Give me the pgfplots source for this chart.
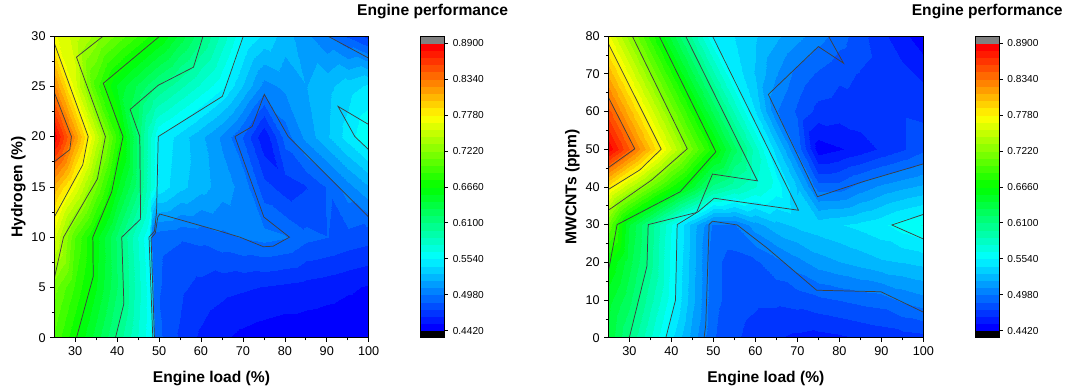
\documentclass[border=0pt]{standalone}
\usepackage{pgfplots}
\pgfplotsset{compat=1.18}
\usepackage{fontspec}
\setmainfont{Liberation Sans}
\pgfplotsset{
 colormap={engine}{
  rgb255=(0,0,0)
  rgb255=(0,0,255) rgb255=(0,26,255) rgb255=(0,52,255) rgb255=(0,78,255) rgb255=(0,105,255)
  rgb255=(0,131,255) rgb255=(0,157,255) rgb255=(0,183,255) rgb255=(0,209,255) rgb255=(0,235,255)
  rgb255=(0,255,248) rgb255=(0,255,222) rgb255=(0,255,196) rgb255=(0,255,170) rgb255=(0,255,144)
  rgb255=(0,255,118) rgb255=(0,255,92) rgb255=(0,255,65) rgb255=(0,255,39) rgb255=(0,255,13)
  rgb255=(13,255,0) rgb255=(39,255,0) rgb255=(65,255,0) rgb255=(92,255,0) rgb255=(118,255,0)
  rgb255=(144,255,0) rgb255=(170,255,0) rgb255=(196,255,0) rgb255=(222,255,0) rgb255=(248,255,0)
  rgb255=(255,235,0) rgb255=(255,209,0) rgb255=(255,183,0) rgb255=(255,157,0) rgb255=(255,131,0)
  rgb255=(255,105,0) rgb255=(255,78,0) rgb255=(255,52,0) rgb255=(255,26,0) rgb255=(255,0,0)
  rgb255=(128,128,128)
 },
 contourline/.style={draw=black!75, line width=0.55pt, no markers},
 myaxis/.style={
  scale only axis, width=235.8pt, height=226.3pt, view={0}{90}, anchor=south west,
  xmin=25, xmax=100, xtick={30,40,...,100}, minor x tick num=1,
  ztick=\empty, zmin=0, zmax=1,
  tick align=outside, xtick pos=left, ytick pos=left,
  major tick length=3pt, minor tick length=1.8pt,
  axis line style={line width=0.6pt},
  every tick/.style={black, line width=0.5pt},
  /pgf/number format/assume math mode=true,
  tick label style={font=\fontsize{9.5}{11}\selectfont},
  every axis x label/.style={at={(axis description cs:0.5,0)}, anchor=center, yshift=-30.5pt, font=\bfseries\fontsize{11.7}{13}\selectfont},
  every axis y label/.style={at={(axis description cs:0,0.5)}, anchor=center, rotate=90, yshift=27pt, font=\bfseries\fontsize{11.7}{13}\selectfont},
  xlabel={Engine load (\%)},
  colormap name=engine, colormap access=piecewise constant,
  point meta min=0.4308, point meta max=0.9012,
  colorbar,
  colorbar style={
   width=18.2pt, at={(parent axis.north east)}, anchor=north west, xshift=30.3pt,
   colormap access=piecewise constant,
   ytick={0.442,0.498,0.554,0.610,0.666,0.722,0.778,0.834,0.890},
   tick align=outside, ytick pos=right, major tick length=2.5pt,
   axis line style={line width=0.6pt},
   /pgf/number format/assume math mode=true,
   yticklabel style={font=\fontsize{7.6}{9}\selectfont, /pgf/number format/.cd, fixed, fixed zerofill, precision=4},
   title={Engine performance},
   title style={font=\bfseries\fontsize{11.7}{13}\selectfont, at={(0.5,1)}, anchor=center, yshift=12.2pt},
  },
 },
}
\begin{document}
\begin{tikzpicture}
\path[use as bounding box] (-40.7pt,-37pt) rectangle (759.5pt,253.3pt);
% ---------------- left: Hydrogen ----------------
\begin{axis}[myaxis, at={(0pt,0pt)}, ymin=0, ymax=30, ytick={0,5,...,30}, minor y tick num=1,
  ylabel={Hydrogen (\%)}]
\addplot3[surf, shader=interp, mesh/cols=17] coordinates {
(25,0,0.698) (30,0,0.668) (35,0,0.638) (40,0,0.607) (45,0,0.576) (48.3,0,0.555) (49.0,0,0.492) (55,0,0.474) (60,0,0.462) (65,0,0.455) (70,0,0.450) (75,0,0.447) (80,0,0.445) (85,0,0.445) (90,0,0.444) (95,0,0.443) (100,0,0.443)
(25,5,0.716) (30,5,0.687) (35,5,0.656) (40,5,0.622) (45,5,0.581) (48.0,5,0.556) (48.8,5,0.490) (55,5,0.478) (60,5,0.472) (65,5,0.468) (70,5,0.466) (75,5,0.464) (80,5,0.462) (85,5,0.460) (90,5,0.458) (95,5,0.455) (100,5,0.452)
(25,10,0.760) (30,10,0.700) (35,10,0.660) (40,10,0.619) (45,10,0.576) (47.5,10,0.555) (48.4,10,0.492) (55,10,0.488) (60,10,0.490) (65,10,0.495) (70,10,0.499) (75,10,0.502) (80,10,0.499) (85,10,0.490) (90,10,0.487) (95,10,0.483) (100,10,0.480)
(25,15,0.809) (30,15,0.766) (35,15,0.712) (40,15,0.657) (45,15,0.614) (48,15,0.575) (50,15,0.550) (55,15,0.535) (60,15,0.525) (65,15,0.515) (70,15,0.505) (75,15,0.480) (80,15,0.470) (85,15,0.475) (90,15,0.488) (95,15,0.505) (100,15,0.520)
(25,20,0.888) (30,20,0.821) (35,20,0.752) (40,20,0.685) (45,20,0.616) (48,20,0.576) (50,20,0.553) (55,20,0.538) (60,20,0.523) (65,20,0.507) (70,20,0.486) (75,20,0.455) (80,20,0.492) (85,20,0.513) (90,20,0.530) (95,20,0.548) (100,20,0.566)
(25,25,0.827) (30,25,0.760) (35,25,0.693) (40,25,0.653) (45,25,0.630) (48,25,0.616) (50,25,0.608) (55,25,0.591) (60,25,0.574) (65,25,0.557) (70,25,0.531) (75,25,0.505) (80,25,0.512) (85,25,0.520) (90,25,0.528) (95,25,0.538) (100,25,0.545)
(25,30,0.770) (30,30,0.750) (35,30,0.729) (40,30,0.708) (45,30,0.688) (48,30,0.675) (50,30,0.667) (55,30,0.640) (60,30,0.613) (65,30,0.584) (70,30,0.555) (75,30,0.540) (80,30,0.526) (85,30,0.512) (90,30,0.499) (95,30,0.485) (100,30,0.471)
};
\addplot3[contourline] coordinates {(25,24.4,1) (29.1,20,1) (28.7,18.7,1) (25,17.5,1)};
\addplot3[contourline] coordinates {(25,29.3,1) (33.1,20,1) (31.8,17.2,1) (25,12.0,1)};
\addplot3[contourline] coordinates {(36.7,30,1) (30.3,27.9,1) (37.2,20,1) (35.3,15.8,1) (27.2,10,1) (25,5.9,1)};
\addplot3[contourline] coordinates {(50.2,30,1) (36.7,25.3,1) (41.4,20,1) (38.7,14.5,1) (34.2,10,1) (34.3,6.1,1) (30.3,0,1)};
\addplot3[contourline] coordinates {(60.5,30,1) (58.2,26.9,1) (49.8,25.1,1) (43.1,22.7,1) (45.4,20,1) (45.6,11.8,1) (41.1,10,1) (41.6,3.4,1) (39.6,0,1)};
\addplot3[contourline] coordinates {(70.1,30,1) (65.1,24,1) (49.8,20,1) (49.4,12.5,1) (48.9,10.6,1) (47.6,10.0,1) (48.5,0,1)};
\addplot3[contourline] coordinates {(48.9,0,1) (48.1,9.9,1) (49.1,10.4,1) (49.7,12.0,1) (50.2,12.3,1) (63.7,10.7,1) (69.3,10,1) (74.9,9.05,1) (77.2,9.1,1) (81.1,10,1) (75,12,1) (68.1,20,1) (72.2,21,1) (75.1,24.2,1) (80.8,20,1) (100,12,1)};
\addplot3[contourline] coordinates {(90.2,30,1) (100,27.8,1)};
\addplot3[contourline] coordinates {(100,21.2,1) (92.7,23,1) (96.7,20,1) (100,18.7,1)};
\end{axis}
% ---------------- right: MWCNTs ----------------
\begin{axis}[myaxis, at={(415.5pt,0pt)}, width=236.25pt, ymin=0, ymax=80, ytick={0,10,...,80}, minor y tick num=1,
  ylabel={MWCNTs (ppm)}]
\addplot3[surf, shader=interp, mesh/cols=16] coordinates {
(25,0,0.642) (30,0,0.610) (35,0,0.578) (40,0,0.546) (45,0,0.516) (50,0,0.488) (55,0,0.478) (60,0,0.470) (65,0,0.465) (70,0,0.462) (75,0,0.460) (80,0,0.462) (85,0,0.465) (90,0,0.468) (95,0,0.470) (100,0,0.472)
(25,10,0.648) (30,10,0.625) (35,10,0.592) (40,10,0.560) (45,10,0.524) (50,10,0.490) (55,10,0.482) (60,10,0.478) (65,10,0.478) (70,10,0.480) (75,10,0.484) (80,10,0.487) (85,10,0.490) (90,10,0.492) (95,10,0.500) (100,10,0.505)
(25,20,0.668) (30,20,0.637) (35,20,0.604) (40,20,0.562) (45,20,0.526) (50,20,0.490) (55,20,0.482) (60,20,0.485) (65,20,0.494) (70,20,0.505) (75,20,0.515) (80,20,0.520) (85,20,0.525) (90,20,0.530) (95,20,0.532) (100,20,0.535)
(25,30,0.709) (30,30,0.644) (35,30,0.606) (40,30,0.566) (45,30,0.527) (50,30,0.496) (55,30,0.497) (60,30,0.515) (65,30,0.528) (70,30,0.534) (75,30,0.538) (80,30,0.542) (85,30,0.546) (90,30,0.551) (95,30,0.560) (100,30,0.566)
(25,40,0.785) (30,40,0.746) (35,40,0.711) (40,40,0.677) (45,40,0.646) (50,40,0.606) (55,40,0.591) (60,40,0.577) (65,40,0.562) (70,40,0.531) (75,40,0.492) (80,40,0.492) (85,40,0.503) (90,40,0.512) (95,40,0.518) (100,40,0.523)
(25,50,0.888) (30,50,0.846) (35,50,0.801) (40,50,0.756) (45,50,0.712) (50,50,0.671) (55,50,0.626) (60,50,0.582) (65,50,0.537) (70,50,0.495) (75,50,0.447) (80,50,0.452) (85,50,0.458) (90,50,0.466) (95,50,0.474) (100,50,0.484)
(25,60,0.850) (30,60,0.805) (35,60,0.761) (40,60,0.718) (45,60,0.674) (50,60,0.630) (55,60,0.586) (60,60,0.543) (65,60,0.499) (70,60,0.485) (75,60,0.472) (80,60,0.470) (85,60,0.472) (90,60,0.474) (95,60,0.474) (100,60,0.472)
(25,70,0.810) (30,70,0.766) (35,70,0.723) (40,70,0.679) (45,70,0.635) (50,70,0.591) (55,70,0.551) (60,70,0.531) (65,70,0.510) (70,70,0.494) (75,70,0.485) (80,70,0.478) (85,70,0.475) (90,70,0.472) (95,70,0.468) (100,70,0.462)
(25,80,0.770) (30,80,0.728) (35,80,0.684) (40,80,0.640) (45,80,0.596) (50,80,0.554) (55,80,0.543) (60,80,0.533) (65,80,0.523) (70,80,0.513) (75,80,0.503) (80,80,0.492) (85,80,0.480) (90,80,0.468) (95,80,0.457) (100,80,0.445)
};
\addplot3[contourline] coordinates {(25,63.8,1) (31.3,50.1,1) (25,45.1,1)};
\addplot3[contourline] coordinates {(25,78,1) (37.6,50,1) (32.5,44.5,1) (25,39.3,1)};
\addplot3[contourline] coordinates {(30.7,80,1) (43.8,50.1,1) (35.3,41.8,1) (25,33.8,1)};
\addplot3[contourline] coordinates {(37.1,80,1) (50.6,49.3,1) (42.1,38.7,1) (27.1,30,1) (25,17.5,1)};
\addplot3[contourline] coordinates {(43.4,80,1) (60.5,41.6,1) (49.8,43.4,1) (46,33.2,1) (34.5,30,1) (34.2,19,1) (30,0,1)};
\addplot3[contourline] coordinates {(49.8,80,1) (70.3,33.8,1) (50.2,37,1) (46.5,33.5,1) (41.4,30,1) (41,10,1) (38.7,0,1)};
\addplot3[contourline] coordinates {(47.8,0,1) (48.2,3.4,1) (49,30,1) (49.8,30.9,1) (55.7,29.9,1) (62.9,23.7,1) (74.6,12.6,1) (89.9,12.2,1) (100,6.8,1)};
\addplot3[contourline] coordinates {(77.4,80,1) (81,72.8,1) (75,77.2,1) (63.1,64.5,1) (74.8,37.4,1) (85.7,41.4,1) (100,46.1,1)};
\addplot3[contourline] coordinates {(100,32.7,1) (92.5,29.9,1) (100,26.2,1)};
\end{axis}
\end{tikzpicture}
\end{document}
